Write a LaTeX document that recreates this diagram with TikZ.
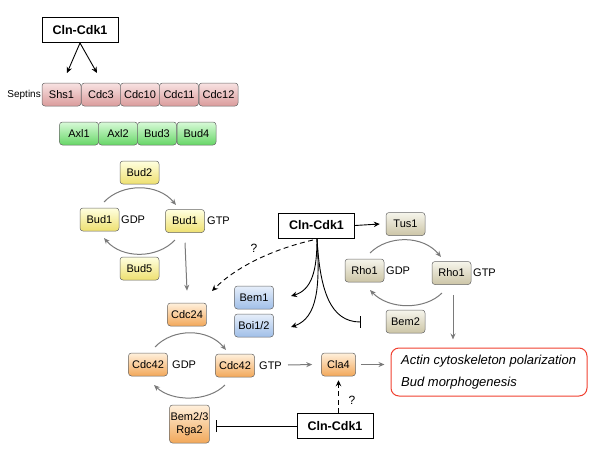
\documentclass[tikz,border=0pt]{standalone}
\usepackage{fontspec}
\setmainfont{Liberation Sans}
\usetikzlibrary{arrows.meta}
\definecolor{pinkT}{HTML}{F8E2E2}
\definecolor{pinkB}{HTML}{DA9C9C}
\definecolor{greenT}{HTML}{D8FAD8}
\definecolor{greenB}{HTML}{66D666}
\definecolor{yelT}{HTML}{FFFFE0}
\definecolor{yelB}{HTML}{EEE070}
\definecolor{oraT}{HTML}{FFF0DC}
\definecolor{oraB}{HTML}{F2A85A}
\definecolor{bluT}{HTML}{E6EEFA}
\definecolor{bluB}{HTML}{A0BFE8}
\definecolor{tanT}{HTML}{F6F5EC}
\definecolor{tanB}{HTML}{CCC5A6}
\definecolor{garr}{HTML}{7A7A7A}
\definecolor{redb}{HTML}{F04030}
\tikzset{
  pbox/.style={draw=gray!80!black, rounded corners=3pt, minimum width=39pt, minimum height=23pt,
    inner sep=1pt, font=\fontsize{11}{12}\selectfont, line width=0.5pt},
  pinkbox/.style={pbox, top color=pinkT, bottom color=pinkB},
  greenbox/.style={pbox, top color=greenT, bottom color=greenB},
  yelbox/.style={pbox, top color=yelT, bottom color=yelB},
  orabox/.style={pbox, top color=oraT, bottom color=oraB},
  blubox/.style={pbox, top color=bluT, bottom color=bluB},
  tanbox/.style={pbox, top color=tanT, bottom color=tanB},
  kbox/.style={draw, fill=white, line width=0.8pt, minimum width=76pt, minimum height=25pt,
    inner sep=1pt, font=\fontsize{12.5}{14}\selectfont\bfseries},
  lbl/.style={anchor=west, inner sep=0pt, font=\fontsize{11}{12}\selectfont},
  garrow/.style={draw=garr, line width=1pt, -{Stealth[length=6pt,width=5pt]}},
  karrow/.style={draw=black, line width=0.9pt, -{Stealth[length=6pt,width=5.5pt,inset=2pt]}},
  kinh/.style={draw=black, line width=0.9pt, -{Bar[width=12pt]}},
}
\begin{document}
\begin{tikzpicture}[x=1pt,y=-1pt]
\useasboundingbox (0,0) rectangle (600,455);

% top Cln-Cdk1 and septins
\node[kbox] (k1) at (80,30) {Cln-Cdk1};
\node[anchor=east, inner sep=0pt, font=\fontsize{10}{11}\selectfont] (sept) at (41,95) {Septins};
\node[pinkbox] (shs1) at (61.5,94.5) {Shs1};
\node[pinkbox] (cdc3) at (101,94.5) {Cdc3};
\node[pinkbox] (cdc10) at (140,94.5) {Cdc10};
\node[pinkbox] (cdc11) at (179,94.5) {Cdc11};
\node[pinkbox] (cdc12) at (218.5,94.5) {Cdc12};
\coordinate (k1a) at (80,43);
\coordinate (shsTop) at (67,73);
\coordinate (cdc3Top) at (97,73);
\draw[karrow] (k1a) -- (shsTop);
\draw[karrow] (k1a) -- (cdc3Top);

\node[greenbox] (axl1) at (79,133.5) {Axl1};
\node[greenbox] (axl2) at (118,133.5) {Axl2};
\node[greenbox] (bud3) at (157,133.5) {Bud3};
\node[greenbox] (bud4) at (196.5,133.5) {Bud4};

% Bud1 cycle
\node[yelbox] (bud2) at (139.5,172.5) {Bud2};
\node[yelbox] (bud1a) at (99.5,219.5) {Bud1};
\node[lbl] (gdp1) at (121,219.5) {GDP};
\node[yelbox] (bud1b) at (185,221) {Bud1};
\node[lbl] (gtp1) at (207,221) {GTP};
\node[yelbox] (bud5) at (139.5,268.5) {Bud5};
\coordinate (b1s) at (104,202); \coordinate (b1e) at (176,205);
\draw[garrow] (b1s) .. controls (122,183) and (158,183) .. (b1e);
\coordinate (b2s) at (175,240); \coordinate (b2e) at (104,238);
\draw[garrow] (b2s) .. controls (157,259) and (122,259) .. (b2e);

% Cdc42 cycle
\node[orabox] (cdc24) at (187,314.5) {Cdc24};
\draw[garrow] ([yshift=-10pt]bud1b.south) -- ([yshift=12pt]cdc24.north);
\node[orabox] (cdc42a) at (148,364.5) {Cdc42};
\node[lbl] (gdp2) at (172,364.5) {GDP};
\node[orabox] (cdc42b) at (235,365.5) {Cdc42};
\node[lbl] (gtp2) at (259,365.5) {GTP};
\node[orabox, minimum height=38pt, align=center, font=\fontsize{11}{13}\selectfont] (bem23) at (189.5,424) {Bem2/3\\Rga2};
\coordinate (c1s) at (155,347); \coordinate (c1e) at (226,350);
\draw[garrow] (c1s) .. controls (173,328) and (208,328) .. (c1e);
\coordinate (c2s) at (225,385); \coordinate (c2e) at (154,385);
\draw[garrow] (c2s) .. controls (208,402) and (172,402) .. (c2e);

\node[blubox] (bem1) at (254,297.5) {Bem1};
\node[blubox] (boi) at (254,325.5) {Boi1/2};

% Rho1 cycle
\node[kbox] (k2) at (316.5,225.5) {Cln-Cdk1};
\node[tanbox] (tus1) at (405.5,224) {Tus1};
\node[tanbox] (rho1a) at (364.5,270.5) {Rho1};
\node[lbl] (gdp3) at (386,270.5) {GDP};
\node[tanbox] (rho1b) at (451.5,273) {Rho1};
\node[lbl] (gtp3) at (473,273) {GTP};
\node[tanbox] (bem2) at (405.5,321.5) {Bem2};
\coordinate (r1s) at (370,253); \coordinate (r1e) at (441,257);
\draw[garrow] (r1s) .. controls (388,235) and (423,235) .. (r1e);
\coordinate (r2s) at (442,293); \coordinate (r2e) at (370,290);
\draw[garrow] (r2s) .. controls (425,310) and (389,310) .. (r2e);

\draw[karrow] (k2.east) -- ([xshift=-6pt]tus1.west);
\coordinate (k2b) at (317,239);
\coordinate (bem1e) at (291,296);
\coordinate (boie) at (291,327);
\coordinate (inhe) at (361,322);
\draw[karrow] (k2b) .. controls (317,270) and (312,290) .. (bem1e);
\draw[karrow] (k2b) .. controls (320,285) and (318,318) .. (boie);
\draw[kinh] (k2b) .. controls (320,290) and (330,322) .. (inhe);
\coordinate (dashe) at (212,291);
\draw[karrow, dashed, dash pattern=on 5pt off 3.5pt] (313,240) .. controls (270,250) and (235,268) .. (dashe);
\node[font=\fontsize{12}{14}\selectfont] (q1) at (254,248) {?};

% Cla4 and outputs
\node[orabox, minimum width=34pt] (cla4) at (338.5,364.5) {Cla4};
\coordinate (gtpar) at (288,365);
\draw[garrow] (gtpar) -- ([xshift=-9pt]cla4.west);
\node[draw=redb, line width=1pt, rounded corners=8pt, minimum width=196pt, minimum height=48pt] (out) at (489,372) {};
\node[anchor=west, inner sep=0pt, font=\fontsize{13}{15}\selectfont\itshape] (t1) at (401,361) {Actin cytoskeleton polarization};
\node[anchor=west, inner sep=0pt, font=\fontsize{13}{15}\selectfont\itshape] (t2) at (401,383.5) {Bud morphogenesis};
\draw[garrow] ([xshift=5pt]cla4.east) -- ([xshift=-6pt]out.west |- cla4.east);
\draw[garrow] ([yshift=-10pt]rho1b.south -| 453,0) -- ([yshift=8pt]out.north -| 453,0);

\node[kbox] (k3) at (335,426) {Cln-Cdk1};
\draw[kinh] (k3.west) -- (216,426);
\draw[karrow, dashed, dash pattern=on 5pt off 3.5pt] (k3.north -| cla4) -- ([yshift=-4pt]cla4.south);
\node[font=\fontsize{12}{14}\selectfont] (q2) at (352,400) {?};
\end{tikzpicture}
\end{document}
